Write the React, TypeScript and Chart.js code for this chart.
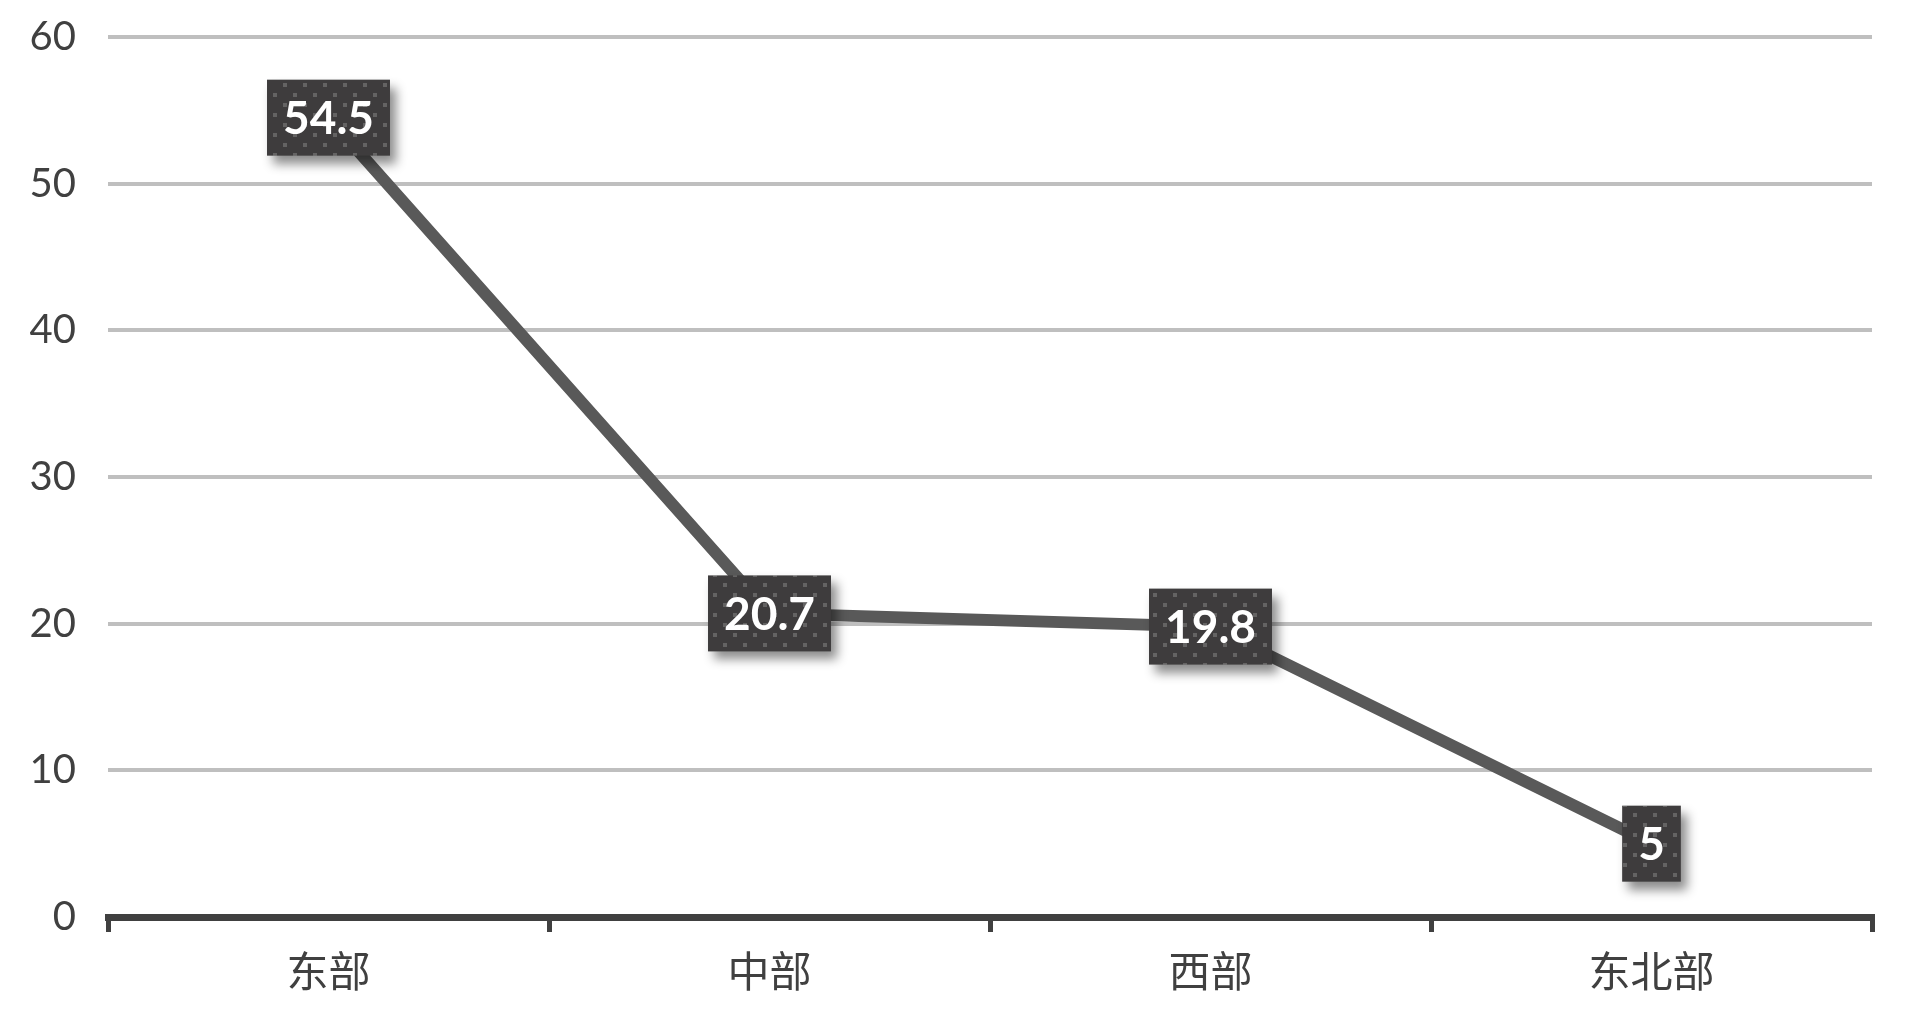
import { useEffect, useRef } from "react";
import Chart from "chart.js/auto";

const CATEGORIES = ["东部", "中部", "西部", "东北部"];
const VALUES = [54.5, 20.7, 19.8, 5];
const Y_MIN = 0;
const Y_MAX = 60;
const Y_STEP = 10;

function makeDotPattern(ctx: CanvasRenderingContext2D) {
  const tile = document.createElement("canvas");
  tile.width = 20;
  tile.height = 20;
  const t = tile.getContext("2d")!;
  t.fillStyle = "rgba(255,255,255,0.2)";
  t.fillRect(3, 3, 4, 4);
  t.fillRect(13, 13, 4, 4);
  return ctx.createPattern(tile, "repeat");
}

// draws the dark value boxes centred on every point
const valueBoxes = {
  id: "valueBoxes",
  afterDatasetsDraw(chart: any) {
    const ctx: CanvasRenderingContext2D = chart.ctx;
    const meta = chart.getDatasetMeta(0);
    const pattern = makeDotPattern(ctx);
    meta.data.forEach((pt: any, i: number) => {
      const text = String(VALUES[i]);
      ctx.save();
      ctx.font = "bold 46px Lato";
      const w = ctx.measureText(text).width + 32;
      const h = 76;
      const x = pt.x - w / 2;
      const y = pt.y - h / 2;
      ctx.shadowColor = "rgba(0,0,0,0.45)";
      ctx.shadowBlur = 10;
      ctx.shadowOffsetX = 6;
      ctx.shadowOffsetY = 8;
      ctx.fillStyle = "#3e3c3d";
      ctx.fillRect(x, y, w, h);
      ctx.shadowColor = "transparent";
      if (pattern) {
        ctx.fillStyle = pattern;
        ctx.fillRect(x, y, w, h);
      }
      ctx.fillStyle = "#ffffff";
      ctx.textAlign = "center";
      ctx.textBaseline = "middle";
      ctx.fillText(text, pt.x, pt.y + 2);
      ctx.restore();
    });
  },
};

export default function App() {
  const canvasRef = useRef<HTMLCanvasElement>(null);
  const chartRef = useRef<Chart | null>(null);

  useEffect(() => {
    if (!canvasRef.current) return;
    if (chartRef.current) chartRef.current.destroy();

    chartRef.current = new Chart(canvasRef.current, {
      type: "line",
      data: {
        labels: CATEGORIES,
        datasets: [
          {
            data: VALUES,
            borderColor: "#595959",
            borderWidth: 12,
            pointRadius: 0,
            tension: 0,
            fill: false,
          },
        ],
      },
      options: {
        responsive: true,
        maintainAspectRatio: false,
        animation: false,
        layout: { padding: { top: 37, right: 41, bottom: 0, left: 0 }, autoPadding: false },
        plugins: {
          legend: { display: false },
          tooltip: { enabled: false },
        },
        scales: {
          x: {
            offset: true,
            grid: {
              offset: true,
              drawOnChartArea: false,
              drawTicks: true,
              tickLength: 15,
              color: "#404040",
              lineWidth: 5,
            },
            border: { display: true, color: "#404040", width: 7 },
            ticks: {
              color: "#404040",
              padding: 14,
              font: { family: "'Noto Sans CJK SC', sans-serif", size: 42 },
            },
            afterFit: (scale: any) => {
              scale.height = 104;
            },
          },
          y: {
            min: Y_MIN,
            max: Y_MAX,
            ticks: {
              stepSize: Y_STEP,
              color: "#404040",
              padding: 32,
              font: { family: "Lato, sans-serif", size: 40 },
            },
            grid: { color: "#bfbfbf", lineWidth: 4, drawTicks: false },
            border: { display: false },
            afterFit: (scale: any) => {
              scale.width = 108;
              scale.paddingTop = 0;
              scale.paddingBottom = 0;
            },
          },
        },
      },
      plugins: [valueBoxes],
    });

    return () => {
      chartRef.current?.destroy();
      chartRef.current = null;
    };
  }, []);

  return (
    <div
      style={{
        position: "fixed",
        left: 0,
        top: 0,
        width: "100vw",
        height: "100vh",
        background: "#ffffff",
      }}
    >
      <canvas ref={canvasRef} />
    </div>
  );
}
